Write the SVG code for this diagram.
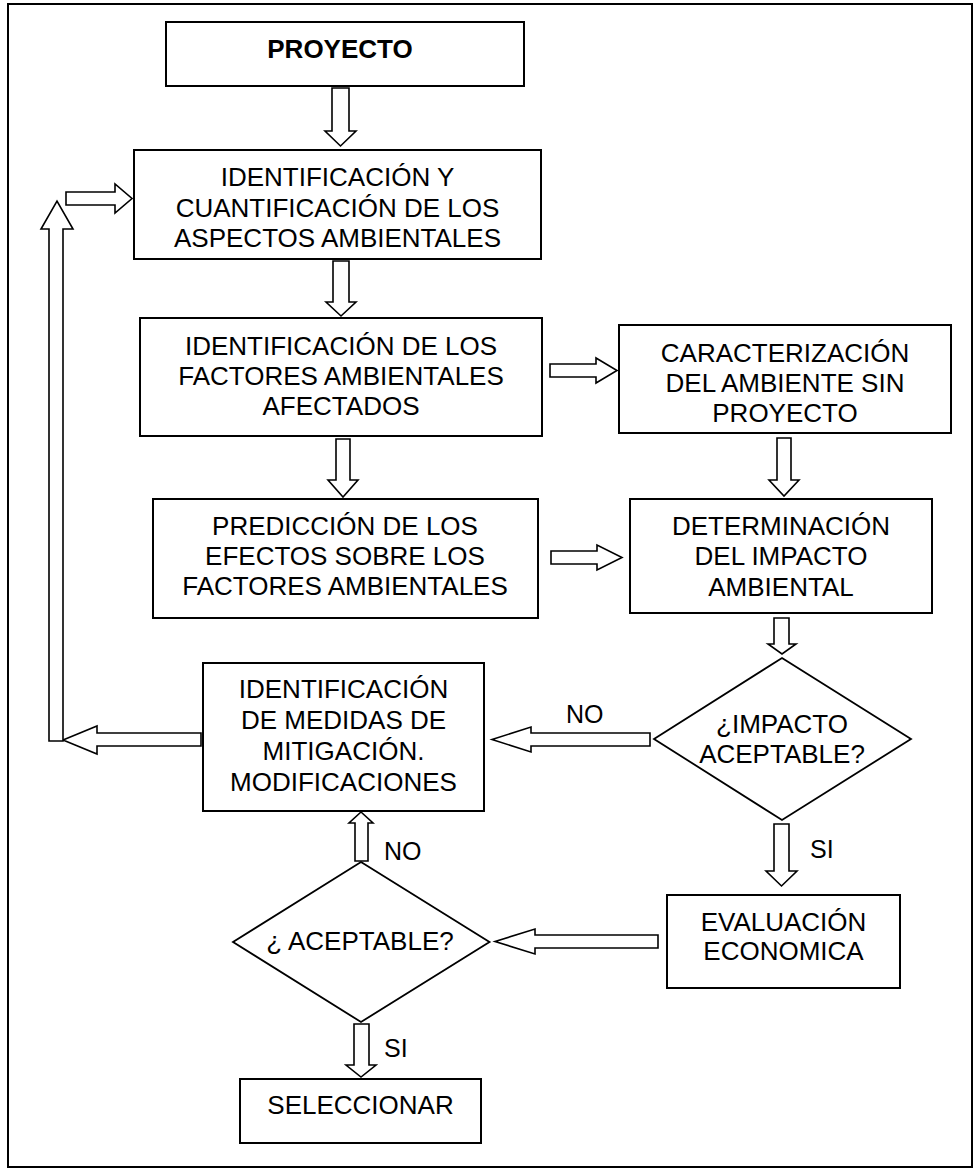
<svg xmlns="http://www.w3.org/2000/svg" width="979" height="1172" viewBox="0 0 979 1172">
<style>
.box{fill:#fff;stroke:#000;stroke-width:2}
.dia{fill:#fff;stroke:#000;stroke-width:1.8}
.arr{fill:#fff;stroke:#000;stroke-width:1.6;stroke-linejoin:miter}
text{font-family:"Liberation Sans",Arial,sans-serif;font-size:26px;fill:#000;text-anchor:middle}
.lbl{text-anchor:start;font-size:25px}
.b{font-weight:bold}
</style>
<rect x="0" y="0" width="979" height="1172" fill="#fff"/>
<rect id="frame" x="8" y="4" width="964" height="1163" fill="none" stroke="#000" stroke-width="2"/>
<g id="connectors">
<polygon class="arr" points="332,88 349,88 349,131 356,131 340.5,146 325,131 332,131"/>
<polygon class="arr" points="333,261 349,261 349,302 356,302 341,316 326,302 333,302"/>
<polygon class="arr" points="550,364 596,364 596,358 617,370.5 596,383 596,377 550,377"/>
<polygon class="arr" points="336,439 350,439 350,480 358,480 343,497 328,480 336,480"/>
<polygon class="arr" points="777,438 791,438 791,480 799,480 784,496 769,480 777,480"/>
<polygon class="arr" points="551,551 597,551 597,545 622,557.5 597,570 597,564 551,564"/>
<polygon class="arr" points="774,618 789,618 789,644 796,644 782,654 768,644 774,644"/>
<polygon class="arr" points="650,733 531,733 531,727 492,739.5 531,752 531,746 650,746"/>
<polygon class="arr" points="201,733 97,733 97,726 63,740 97,754 97,746 201,746"/>
<polygon class="arr" points="49,741 63,741 63,229 73,229 57,201 41,229 49,229"/>
<polygon class="arr" points="66,192 115,192 115,184 132,198.5 115,213 115,205 66,205"/>
<polygon class="arr" points="774,824 789,824 789,871 797,871 781.5,886 766,871 774,871"/>
<polygon class="arr" points="658,935 535,935 535,929 495,941.5 535,954 535,948 658,948"/>
<polygon class="arr" points="355,861 368,861 368,823 373,823 361,812 349,823 355,823"/>
<polygon class="arr" points="354,1024 369,1024 369,1065 376,1065 361,1077 346,1065 354,1065"/>
<text class="lbl" x="566" y="723">NO</text>
<text class="lbl" x="810" y="858">SI</text>
<text class="lbl" x="384" y="860">NO</text>
<text class="lbl" x="384" y="1057">SI</text>
</g>
<g id="proyecto">
<rect class="box" x="166" y="22" width="358" height="64"/>
<text class="b" x="340" y="58">PROYECTO</text>
</g>
<g id="identificacion">
<rect class="box" x="134" y="150" width="407" height="109"/>
<text x="337.5" y="186">IDENTIFICACIÓN Y</text>
<text x="337.5" y="216.5">CUANTIFICACIÓN DE LOS</text>
<text x="337.5" y="247">ASPECTOS AMBIENTALES</text>
</g>
<g id="factores">
<rect class="box" x="140" y="318" width="402" height="118"/>
<text x="341" y="355">IDENTIFICACIÓN DE LOS</text>
<text x="341" y="385">FACTORES AMBIENTALES</text>
<text x="341" y="415">AFECTADOS</text>
</g>
<g id="caracterizacion">
<rect class="box" x="619" y="325" width="332" height="108"/>
<text x="785" y="362">CARACTERIZACIÓN</text>
<text x="785" y="392">DEL AMBIENTE SIN</text>
<text x="785" y="422">PROYECTO</text>
</g>
<g id="prediccion">
<rect class="box" x="153" y="499" width="385" height="119"/>
<text x="345" y="535">PREDICCIÓN DE LOS</text>
<text x="345" y="565">EFECTOS SOBRE LOS</text>
<text x="345" y="595">FACTORES AMBIENTALES</text>
</g>
<g id="determinacion">
<rect class="box" x="630" y="499" width="302" height="114"/>
<text x="781" y="535">DETERMINACIÓN</text>
<text x="781" y="565">DEL IMPACTO</text>
<text x="781" y="596">AMBIENTAL</text>
</g>
<g id="impacto">
<polygon class="dia" points="782,658 911,739 782,820 654,739"/>
<text x="782" y="733">¿IMPACTO</text>
<text x="782" y="763">ACEPTABLE?</text>
</g>
<g id="medidas">
<rect class="box" x="203" y="663" width="281" height="148"/>
<text x="343.5" y="698">IDENTIFICACIÓN</text>
<text x="343.5" y="729">DE MEDIDAS DE</text>
<text x="343.5" y="760">MITIGACIÓN.</text>
<text x="343.5" y="791">MODIFICACIONES</text>
</g>
<g id="evaluacion">
<rect class="box" x="667" y="895" width="233" height="93"/>
<text x="783.5" y="931">EVALUACIÓN</text>
<text x="783.5" y="960">ECONOMICA</text>
</g>
<g id="aceptable">
<polygon class="dia" points="361,862 489.5,942 361,1022 233,942"/>
<text x="360" y="950">¿ ACEPTABLE?</text>
</g>
<g id="seleccionar">
<rect class="box" x="240" y="1079" width="241" height="64"/>
<text x="360.5" y="1114">SELECCIONAR</text>
</g>
</svg>
